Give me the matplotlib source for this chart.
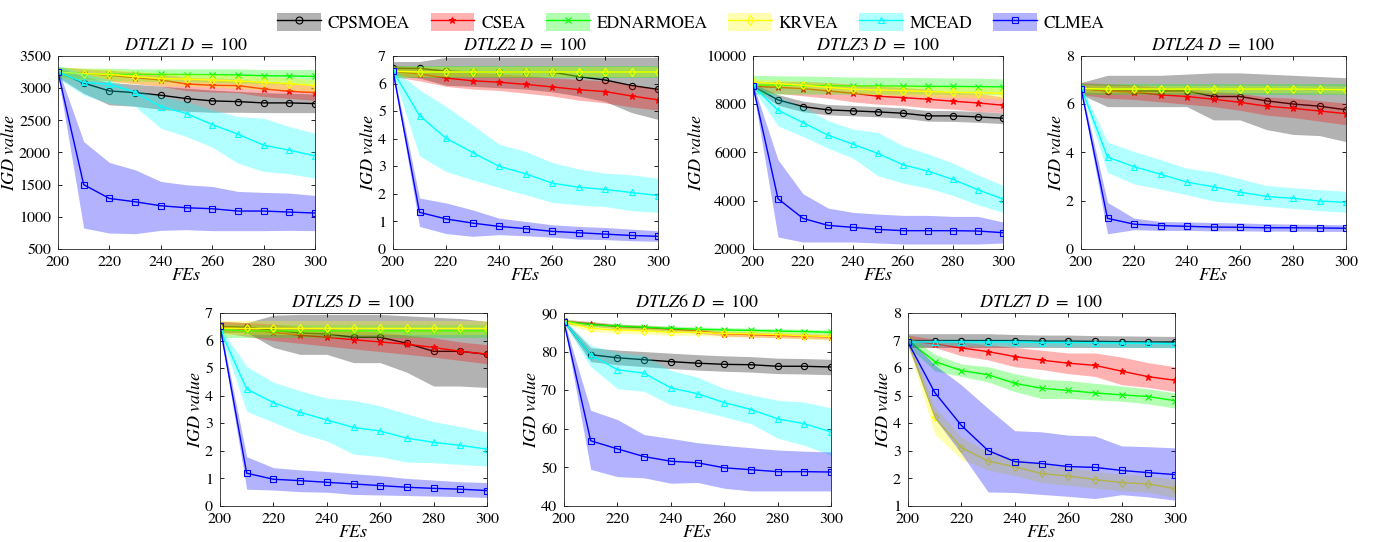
import matplotlib
matplotlib.use('Agg')
import matplotlib.pyplot as plt
from matplotlib.patches import Patch
from matplotlib.lines import Line2D

plt.rcParams['font.family'] = ['STIXGeneral', 'DejaVu Serif']
plt.rcParams['mathtext.fontset'] = 'stix'

fes = [200, 210, 220, 230, 240, 250, 260, 270, 280, 290, 300]
algos = ['CPSMOEA', 'CSEA', 'EDNARMOEA', 'KRVEA', 'MCEAD', 'CLMEA']

# DTLZ1
dtlz1_mean = {
    'CPSMOEA': [3250, 3080, 2957, 2931, 2890, 2838, 2802, 2791, 2771, 2771, 2760],
    'CSEA': [3250, 3230, 3200, 3163, 3127, 3065, 3045, 3040, 2988, 2952, 2931],
    'EDNARMOEA': [3250, 3225, 3220, 3215, 3215, 3212, 3210, 3205, 3194, 3190, 3184],
    'KRVEA': [3250, 3226, 3215, 3179, 3148, 3143, 3127, 3112, 3091, 3071, 3040],
    'MCEAD': [3250, 3090, 3060, 2936, 2714, 2605, 2434, 2284, 2114, 2036, 1948],
    'CLMEA': [3250, 1500, 1286, 1234, 1172, 1141, 1126, 1090, 1090, 1074, 1059],
}
dtlz1_hi = {
    'CPSMOEA': [3330, 3180, 3090, 3060, 3030, 3000, 2970, 2950, 2930, 2920, 2910],
    'CSEA': [3330, 3300, 3280, 3250, 3220, 3170, 3150, 3140, 3100, 3070, 3050],
    'EDNARMOEA': [3330, 3310, 3310, 3300, 3300, 3300, 3300, 3300, 3290, 3290, 3290],
    'KRVEA': [3330, 3310, 3300, 3270, 3240, 3235, 3220, 3205, 3185, 3165, 3135],
    'MCEAD': [3350, 3230, 3128, 2972, 2869, 2791, 2662, 2559, 2533, 2403, 2300],
    'CLMEA': [3300, 2170, 1845, 1731, 1550, 1498, 1472, 1395, 1380, 1369, 1333],
}
dtlz1_lo = {
    'CPSMOEA': [3170, 2920, 2740, 2720, 2670, 2640, 2625, 2625, 2620, 2620, 2620],
    'CSEA': [3170, 3150, 3110, 3070, 3030, 2960, 2940, 2930, 2870, 2840, 2810],
    'EDNARMOEA': [3170, 3130, 3120, 3110, 3100, 3100, 3090, 3080, 3070, 3060, 3060],
    'KRVEA': [3170, 3120, 3100, 3070, 3040, 3030, 3015, 3000, 2975, 2955, 2925],
    'MCEAD': [3150, 2895, 2766, 2714, 2377, 2248, 2083, 1834, 1705, 1669, 1602],
    'CLMEA': [3200, 826, 748, 738, 790, 800, 785, 785, 785, 790, 785],
}

# DTLZ2
dtlz2_mean = {
    'CPSMOEA': [6.55, 6.55, 6.45, 6.42, 6.42, 6.42, 6.42, 6.25, 6.13, 5.93, 5.79],
    'CSEA': [6.45, 6.35, 6.2, 6.1, 6.05, 5.97, 5.88, 5.78, 5.71, 5.55, 5.41],
    'EDNARMOEA': [6.45, 6.42, 6.42, 6.42, 6.42, 6.42, 6.42, 6.42, 6.42, 6.42, 6.42],
    'KRVEA': [6.45, 6.42, 6.42, 6.42, 6.42, 6.42, 6.42, 6.42, 6.42, 6.42, 6.42],
    'MCEAD': [6.45, 4.84, 4.02, 3.5, 3.0, 2.73, 2.39, 2.24, 2.16, 2.05, 1.94],
    'CLMEA': [6.45, 1.33, 1.09, 0.94, 0.82, 0.74, 0.64, 0.59, 0.54, 0.49, 0.46],
}
dtlz2_hi = {
    'CPSMOEA': [6.8, 6.8, 6.95, 6.95, 6.95, 6.95, 6.95, 6.95, 6.95, 6.95, 6.95],
    'CSEA': [6.65, 6.6, 6.5, 6.4, 6.35, 6.3, 6.2, 6.15, 6.1, 5.95, 5.8],
    'EDNARMOEA': [6.65, 6.65, 6.65, 6.65, 6.65, 6.65, 6.65, 6.65, 6.65, 6.65, 6.65],
    'KRVEA': [6.6, 6.6, 6.6, 6.6, 6.6, 6.6, 6.6, 6.6, 6.6, 6.6, 6.6],
    'MCEAD': [6.55, 5.77, 5.17, 4.5, 3.8, 3.54, 3.14, 2.9, 2.75, 2.69, 2.57],
    'CLMEA': [6.55, 1.85, 1.67, 1.42, 1.12, 1.0, 0.88, 0.82, 0.78, 0.72, 0.66],
}
dtlz2_lo = {
    'CPSMOEA': [6.3, 6.2, 5.94, 5.9, 5.85, 5.8, 5.7, 5.55, 5.35, 4.95, 4.7],
    'CSEA': [6.25, 6.1, 5.9, 5.8, 5.75, 5.65, 5.55, 5.4, 5.3, 5.15, 5.04],
    'EDNARMOEA': [6.2, 6.2, 6.2, 6.2, 6.2, 6.2, 6.2, 6.2, 6.2, 6.2, 6.2],
    'KRVEA': [6.25, 6.25, 6.25, 6.25, 6.25, 6.25, 6.25, 6.25, 6.25, 6.25, 6.25],
    'MCEAD': [6.35, 3.38, 2.81, 2.51, 2.23, 1.97, 1.69, 1.6, 1.54, 1.39, 1.33],
    'CLMEA': [6.35, 0.82, 0.56, 0.46, 0.52, 0.48, 0.43, 0.36, 0.34, 0.3, 0.28],
}

# DTLZ3
dtlz3_mean = {
    'CPSMOEA': [8750, 8179, 7903, 7766, 7724, 7683, 7628, 7517, 7517, 7476, 7421],
    'CSEA': [8750, 8703, 8648, 8552, 8455, 8331, 8276, 8207, 8124, 8055, 7959],
    'EDNARMOEA': [8800, 8790, 8780, 8770, 8760, 8760, 8750, 8740, 8740, 8730, 8720],
    'KRVEA': [8910, 8855, 8786, 8703, 8621, 8593, 8566, 8524, 8497, 8483, 8455],
    'MCEAD': [8750, 7752, 7241, 6717, 6345, 5959, 5490, 5228, 4883, 4455, 4069],
    'CLMEA': [8759, 4083, 3269, 2979, 2897, 2814, 2759, 2759, 2759, 2745, 2676],
}
dtlz3_hi = {
    'CPSMOEA': [8850, 8400, 8130, 7990, 7950, 7900, 7850, 7740, 7740, 7700, 7640],
    'CSEA': [8900, 8950, 8950, 8900, 8830, 8750, 8700, 8620, 8500, 8450, 8300],
    'EDNARMOEA': [9200, 9180, 9170, 9150, 9130, 9120, 9110, 9100, 9090, 9080, 9050],
    'KRVEA': [9050, 9000, 8950, 8880, 8820, 8800, 8780, 8750, 8730, 8720, 8700],
    'MCEAD': [8850, 8317, 7876, 7324, 6966, 6828, 6276, 5945, 5559, 5076, 4634],
    'CLMEA': [8850, 5697, 4290, 3697, 3517, 3448, 3393, 3393, 3352, 3352, 3117],
}
dtlz3_lo = {
    'CPSMOEA': [8650, 7960, 7690, 7560, 7520, 7480, 7420, 7300, 7290, 7250, 7200],
    'CSEA': [8600, 8450, 8350, 8250, 8100, 8000, 7950, 7850, 7800, 7700, 7650],
    'EDNARMOEA': [8400, 8420, 8420, 8420, 8420, 8420, 8420, 8420, 8420, 8400, 8400],
    'KRVEA': [8770, 8700, 8620, 8530, 8430, 8390, 8350, 8300, 8270, 8250, 8210],
    'MCEAD': [8650, 7103, 6662, 6179, 5766, 5034, 4731, 4524, 4221, 3834, 3517],
    'CLMEA': [8650, 2497, 2290, 2290, 2290, 2248, 2207, 2207, 2207, 2207, 2248],
}

# DTLZ4
dtlz4_mean = {
    'CPSMOEA': [6.65, 6.55, 6.55, 6.55, 6.55, 6.32, 6.32, 6.14, 6.01, 5.92, 5.77],
    'CSEA': [6.65, 6.55, 6.5, 6.39, 6.32, 6.21, 6.08, 5.92, 5.83, 5.72, 5.61],
    'EDNARMOEA': [6.65, 6.62, 6.62, 6.62, 6.62, 6.62, 6.62, 6.62, 6.62, 6.62, 6.6],
    'KRVEA': [6.65, 6.63, 6.63, 6.63, 6.63, 6.63, 6.63, 6.63, 6.63, 6.62, 6.6],
    'MCEAD': [6.7, 3.81, 3.41, 3.1, 2.77, 2.58, 2.36, 2.18, 2.1, 1.99, 1.93],
    'CLMEA': [6.65, 1.27, 1.03, 0.97, 0.94, 0.91, 0.9, 0.88, 0.88, 0.87, 0.86],
}
dtlz4_hi = {
    'CPSMOEA': [6.9, 7.2, 7.2, 7.2, 7.25, 7.3, 7.3, 7.25, 7.2, 7.15, 7.1],
    'CSEA': [6.9, 6.85, 6.8, 6.7, 6.65, 6.55, 6.45, 6.3, 6.25, 6.15, 6.05],
    'EDNARMOEA': [6.85, 6.85, 6.85, 6.85, 6.85, 6.85, 6.85, 6.85, 6.85, 6.85, 6.85],
    'KRVEA': [6.8, 6.78, 6.78, 6.78, 6.78, 6.78, 6.78, 6.78, 6.78, 6.77, 6.75],
    'MCEAD': [6.8, 4.43, 4.04, 3.7, 3.35, 3.19, 2.91, 2.63, 2.54, 2.46, 2.39],
    'CLMEA': [6.75, 1.93, 1.28, 1.14, 1.12, 1.1, 1.08, 1.05, 1.03, 1.02, 1.0],
}
dtlz4_lo = {
    'CPSMOEA': [6.4, 5.9, 5.9, 5.9, 5.9, 5.35, 5.35, 4.95, 4.75, 4.7, 4.45],
    'CSEA': [6.4, 6.25, 6.2, 6.1, 6.0, 5.9, 5.75, 5.55, 5.45, 5.3, 5.15],
    'EDNARMOEA': [6.4, 6.4, 6.4, 6.4, 6.4, 6.4, 6.4, 6.4, 6.4, 6.4, 6.4],
    'KRVEA': [6.5, 6.48, 6.48, 6.48, 6.48, 6.48, 6.48, 6.48, 6.48, 6.47, 6.45],
    'MCEAD': [6.6, 3.17, 2.7, 2.48, 2.25, 1.99, 1.88, 1.77, 1.68, 1.59, 1.52],
    'CLMEA': [6.55, 0.63, 0.8, 0.77, 0.77, 0.75, 0.75, 0.74, 0.74, 0.73, 0.73],
}

# DTLZ5
dtlz5_mean = {
    'CPSMOEA': [6.5, 6.48, 6.38, 6.27, 6.24, 6.12, 6.12, 5.9, 5.61, 5.61, 5.5],
    'CSEA': [6.5, 6.4, 6.3, 6.19, 6.12, 6.03, 5.95, 5.87, 5.75, 5.61, 5.51],
    'EDNARMOEA': [6.4, 6.35, 6.35, 6.35, 6.35, 6.35, 6.35, 6.35, 6.35, 6.35, 6.35],
    'KRVEA': [6.45, 6.44, 6.44, 6.44, 6.44, 6.44, 6.44, 6.44, 6.44, 6.44, 6.44],
    'MCEAD': [6.4, 4.24, 3.75, 3.4, 3.12, 2.85, 2.72, 2.46, 2.31, 2.2, 2.06],
    'CLMEA': [6.52, 1.19, 0.97, 0.92, 0.86, 0.8, 0.74, 0.68, 0.64, 0.61, 0.56],
}
dtlz5_hi = {
    'CPSMOEA': [6.7, 6.65, 6.92, 6.95, 6.95, 6.95, 6.95, 6.9, 6.85, 6.8, 6.7],
    'CSEA': [6.7, 6.65, 6.6, 6.5, 6.45, 6.35, 6.3, 6.2, 6.1, 5.95, 5.85],
    'EDNARMOEA': [6.55, 6.55, 6.55, 6.55, 6.55, 6.55, 6.55, 6.55, 6.55, 6.55, 6.55],
    'KRVEA': [6.7, 6.7, 6.7, 6.7, 6.7, 6.7, 6.7, 6.7, 6.7, 6.7, 6.7],
    'MCEAD': [6.5, 5.06, 4.49, 4.18, 3.91, 3.83, 3.63, 3.34, 3.06, 2.88, 2.68],
    'CLMEA': [6.6, 1.79, 1.39, 1.31, 1.25, 1.17, 1.1, 1.0, 0.94, 0.88, 0.85],
}
dtlz5_lo = {
    'CPSMOEA': [6.3, 6.3, 5.75, 5.5, 5.5, 5.2, 5.2, 4.85, 4.35, 4.35, 4.3],
    'CSEA': [6.3, 6.15, 6.0, 5.9, 5.8, 5.7, 5.6, 5.5, 5.4, 5.28, 5.16],
    'EDNARMOEA': [6.1, 6.1, 6.1, 6.1, 6.1, 6.1, 6.1, 6.1, 6.1, 6.1, 6.1],
    'KRVEA': [6.2, 6.2, 6.2, 6.2, 6.2, 6.2, 6.2, 6.2, 6.2, 6.2, 6.2],
    'MCEAD': [6.3, 3.43, 3.04, 2.64, 2.36, 1.88, 1.79, 1.59, 1.57, 1.51, 1.45],
    'CLMEA': [6.4, 0.61, 0.58, 0.52, 0.5, 0.42, 0.4, 0.38, 0.36, 0.34, 0.31],
}

# DTLZ6
dtlz6_mean = {
    'CPSMOEA': [87.8, 79.2, 78.4, 77.9, 77.4, 77.0, 76.7, 76.6, 76.2, 76.2, 76.0],
    'CSEA': [87.8, 87.2, 86.5, 86.2, 85.8, 85.4, 84.6, 84.4, 84.2, 84.0, 83.8],
    'EDNARMOEA': [87.8, 87.0, 86.6, 86.3, 86.0, 85.8, 85.6, 85.5, 85.3, 85.2, 85.0],
    'KRVEA': [87.8, 86.0, 85.6, 85.4, 85.0, 85.0, 84.7, 84.6, 84.4, 84.1, 83.9],
    'MCEAD': [87.8, 79.2, 75.3, 74.4, 70.6, 69.1, 66.8, 65.0, 62.6, 61.3, 59.2],
    'CLMEA': [87.6, 56.9, 54.8, 52.8, 51.6, 51.2, 49.9, 49.4, 48.9, 48.9, 48.8],
}
dtlz6_hi = {
    'CPSMOEA': [88.2, 81.0, 80.4, 80.0, 79.6, 79.2, 78.9, 78.7, 78.3, 78.2, 78.0],
    'CSEA': [88.4, 87.8, 87.1, 86.8, 86.4, 86.0, 85.2, 85.0, 84.8, 84.6, 84.4],
    'EDNARMOEA': [88.4, 87.6, 87.2, 86.9, 86.6, 86.4, 86.2, 86.1, 85.9, 85.8, 85.6],
    'KRVEA': [88.4, 86.8, 86.4, 86.2, 85.8, 85.8, 85.5, 85.4, 85.2, 84.9, 84.7],
    'MCEAD': [88.2, 81.6, 79.8, 79.0, 75.1, 73.4, 70.4, 68.8, 67.4, 66.9, 65.4],
    'CLMEA': [88.0, 64.8, 62.4, 58.5, 57.5, 56.4, 55.7, 55.1, 54.5, 54.2, 54.0],
}
dtlz6_lo = {
    'CPSMOEA': [87.4, 77.4, 76.6, 76.1, 75.6, 75.2, 74.9, 74.7, 74.3, 74.2, 74.0],
    'CSEA': [87.2, 86.6, 85.9, 85.6, 85.2, 84.8, 84.0, 83.8, 83.6, 83.4, 83.2],
    'EDNARMOEA': [87.2, 86.4, 86.0, 85.7, 85.4, 85.2, 85.0, 84.9, 84.7, 84.6, 84.4],
    'KRVEA': [87.2, 85.2, 84.8, 84.6, 84.2, 84.2, 83.9, 83.8, 83.6, 83.3, 83.1],
    'MCEAD': [87.4, 76.1, 70.4, 69.7, 66.2, 64.8, 63.1, 61.3, 57.6, 55.7, 53.2],
    'CLMEA': [87.2, 49.5, 47.6, 47.3, 45.9, 46.1, 44.6, 43.9, 43.9, 43.9, 43.9],
}

# DTLZ7
dtlz7_mean = {
    'CPSMOEA': [7.0, 7.0, 7.0, 7.0, 7.0, 6.98, 6.98, 6.97, 6.96, 6.95, 6.95],
    'CSEA': [7.0, 6.88, 6.73, 6.6, 6.42, 6.29, 6.18, 6.1, 5.89, 5.69, 5.56],
    'EDNARMOEA': [7.0, 6.24, 5.91, 5.76, 5.45, 5.27, 5.19, 5.1, 5.03, 4.97, 4.82],
    'KRVEA': [7.0, 4.21, 3.11, 2.63, 2.42, 2.18, 2.09, 1.96, 1.85, 1.8, 1.63],
    'MCEAD': [6.95, 6.95, 6.95, 6.95, 6.95, 6.93, 6.93, 6.92, 6.91, 6.9, 6.88],
    'CLMEA': [6.94, 5.12, 3.92, 3.01, 2.61, 2.54, 2.43, 2.4, 2.29, 2.21, 2.14],
}
dtlz7_hi = {
    'CPSMOEA': [7.25, 7.25, 7.25, 7.25, 7.22, 7.2, 7.2, 7.18, 7.17, 7.16, 7.15],
    'CSEA': [7.2, 7.05, 6.95, 6.85, 6.75, 6.65, 6.55, 6.55, 6.4, 6.2, 6.05],
    'EDNARMOEA': [7.2, 6.5, 6.15, 6.05, 5.8, 5.6, 5.55, 5.45, 5.35, 5.25, 5.1],
    'KRVEA': [7.2, 4.6, 3.5, 2.95, 2.75, 2.5, 2.4, 2.25, 2.15, 2.1, 1.95],
    'MCEAD': [7.05, 7.05, 7.05, 7.05, 7.05, 7.03, 7.03, 7.02, 7.01, 7.0, 6.98],
    'CLMEA': [7.1, 6.12, 5.39, 4.54, 3.73, 3.69, 3.57, 3.54, 3.18, 3.15, 3.11],
}
dtlz7_lo = {
    'CPSMOEA': [6.75, 6.75, 6.75, 6.75, 6.75, 6.75, 6.75, 6.75, 6.75, 6.75, 6.75],
    'CSEA': [6.8, 6.75, 6.45, 6.3, 6.05, 5.95, 5.8, 5.7, 5.4, 5.3, 5.15],
    'EDNARMOEA': [6.8, 5.9, 5.7, 5.5, 5.15, 4.9, 4.9, 4.85, 4.8, 4.7, 4.55],
    'KRVEA': [6.8, 3.6, 2.7, 2.3, 2.1, 1.85, 1.75, 1.65, 1.55, 1.5, 1.3],
    'MCEAD': [6.8, 6.8, 6.8, 6.8, 6.8, 6.78, 6.78, 6.77, 6.76, 6.75, 6.73],
    'CLMEA': [6.8, 4.18, 2.9, 1.51, 1.49, 1.42, 1.35, 1.27, 1.41, 1.33, 1.21],
}

colors = {'CPSMOEA': (0, 0, 0), 'CSEA': (1, 0, 0), 'EDNARMOEA': (0, 1, 0),
          'KRVEA': (1, 1, 0), 'MCEAD': (0, 1, 1), 'CLMEA': (0, 0, 1)}
markers = {'CPSMOEA': 'o', 'CSEA': '*', 'EDNARMOEA': 'x',
           'KRVEA': 'd', 'MCEAD': '^', 'CLMEA': 's'}

problems = [
    ('DTLZ1', dtlz1_mean, dtlz1_lo, dtlz1_hi, (500, 3500), range(500, 3501, 500)),
    ('DTLZ2', dtlz2_mean, dtlz2_lo, dtlz2_hi, (0, 7), range(0, 8)),
    ('DTLZ3', dtlz3_mean, dtlz3_lo, dtlz3_hi, (2000, 10000), range(2000, 10001, 2000)),
    ('DTLZ4', dtlz4_mean, dtlz4_lo, dtlz4_hi, (0, 8), range(0, 9, 2)),
    ('DTLZ5', dtlz5_mean, dtlz5_lo, dtlz5_hi, (0, 7), range(0, 8)),
    ('DTLZ6', dtlz6_mean, dtlz6_lo, dtlz6_hi, (40, 90), range(40, 91, 10)),
    ('DTLZ7', dtlz7_mean, dtlz7_lo, dtlz7_hi, (1, 8), range(1, 9)),
]

W, H = 1382, 542
# axes boxes in pixels: left, right, top, bottom
boxes = [(58, 315, 56, 249), (393, 658, 56, 249), (753, 1003, 56, 249), (1081, 1346, 56, 249),
         (220, 487, 313, 506), (564, 831, 313, 506), (908, 1175, 313, 506)]

fig = plt.figure(figsize=(W / 100, H / 100), dpi=100)

for (name, mean, lo, hi, ylim, yt), (l, r, t, b) in zip(problems, boxes):
    ax = fig.add_axes([l / W, 1 - b / H, (r - l) / W, (b - t) / H])
    for a in algos:
        c = colors[a]
        # line then band, same zorder so later bands tint earlier lines (as in MATLAB)
        ax.plot(fes, mean[a], color=c, lw=1.0, marker=markers[a], ms=4.5,
                mfc='none' if markers[a] in 'od^s' else c, mew=0.8, zorder=2)
        ax.fill_between(fes, lo[a], hi[a], color=c, alpha=0.3, lw=0, zorder=2)
    ax.set_xlim(200, 300)
    ax.set_ylim(*ylim)
    ax.set_xticks(range(200, 301, 20))
    ax.set_yticks(list(yt))
    ax.tick_params(direction='in', top=True, right=True, labelsize=11.5, length=3,
                   width=0.6, pad=5)
    for s in ax.spines.values():
        s.set_linewidth(0.6)
        s.set_color('0.15')
        s.set_zorder(3)
    ax.set_title('$' + name + r'\ D\ =\ 100$', fontsize=13, pad=4)
    ax.set_xlabel('$FEs$', fontsize=13, labelpad=-1)
    ax.set_ylabel(r'$IGD\ value$', fontsize=13, labelpad=1)

handles = []
for a in algos:
    c = colors[a]
    handles.append((Patch(facecolor=c, alpha=0.3, lw=0),
                    Line2D([], [], color=c, lw=1.0, marker=markers[a], ms=5,
                           mfc='none' if markers[a] in 'od^s' else c, mew=0.8)))
fig.legend(handles, algos, loc='upper center', bbox_to_anchor=(0.5, 1.005), ncol=6,
           frameon=False, fontsize=12.5, handlelength=2.5, handleheight=1.2,
           columnspacing=1.2, handletextpad=0.4)

fig.savefig('out.png', dpi=100)
